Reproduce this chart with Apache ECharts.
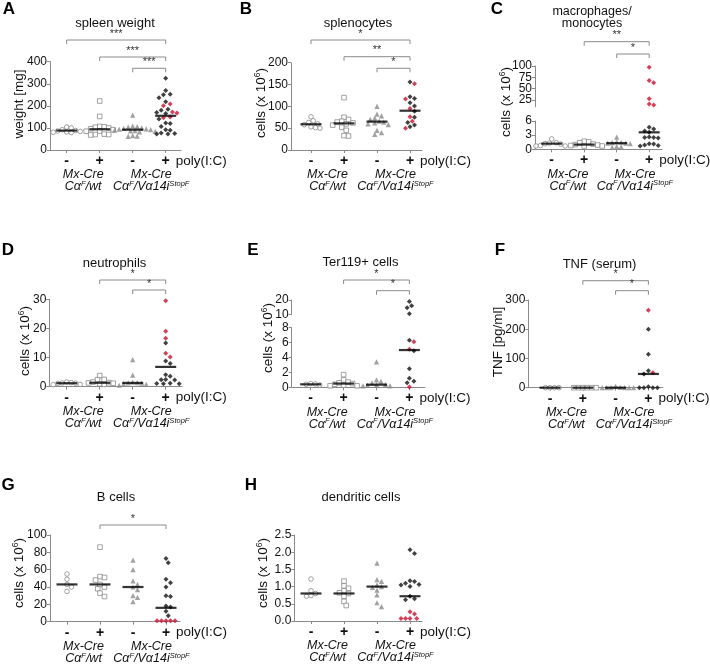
<!DOCTYPE html>
<html><head><meta charset="utf-8">
<script src="https://cdn.jsdelivr.net/npm/echarts@6/dist/echarts.min.js"></script>
<style>html,body{margin:0;padding:0;background:#fff}#c{width:710px;height:670px}</style>
</head><body><div id="c"></div>
<script>
// ---------- tick labels / categories ----------
const signs = ['-', '+', '-', '+'];

// ---------- A: spleen weight ----------
const A_g1 = [104, 100, 92, 88, 86, 84, 82, 80, 79];
const A_g2 = [222, 152, 107, 105, 103, 100, 96, 92, 86, 85, 72, 70, 70, 68];
const A_g3 = [158, 108, 106, 104, 100, 98, 96, 94, 92, 90, 88, 86, 84, 82, 65, 63, 62];
const A_g4_black = [325, 269, 252, 250, 237, 219, 185, 180, 170, 165, 140, 122, 120, 107, 92, 90, 77, 75, 73, 72];
const A_g4_red = [208, 200, 172, 168, 150, 146];
const A_med = [88, 94, 92, 155];

// ---------- B: splenocytes ----------
const B_g1 = [76, 67, 63, 60, 58, 53, 51, 50];
const B_g2 = [120, 75, 70, 66, 64, 62, 60, 57, 52, 45, 33, 32];
const B_g3 = [100, 82, 78, 73, 70, 66, 64, 62, 60, 58, 45, 40, 36];
const B_g4_black = [156, 122, 118, 108, 101, 89, 75, 63, 57, 53];
const B_g4_red = [152, 117, 95, 76, 66, 50];
const B_med = [59, 61, 65, 90];

// ---------- C: macrophages/monocytes ----------
const C_g1 = [2.2, 1.4, 1.3, 1.2, 1.1, 0.8, 0.7, 0.7];
const C_g2 = [1.7, 1.6, 1.4, 1.1, 1.0, 0.9, 0.8, 0.7, 0.7];
const C_g3 = [2.6, 1.6, 1.5, 1.4, 1.3, 1.3, 1.2, 0.6, 0.5, 0.4];
const C_g4_black = [4.7, 4.3, 3.9, 3.6, 2.6, 2.5, 2.5, 2.4, 1.2, 1.1, 0.9, 0.8, 0.7];
const C_g4_red = [97, 68, 63, 28, 16, 14];
const C_med = [1.2, 1.0, 1.3, 3.6];
const C_upperTicks = [25, 50, 75, 100];

// ---------- D: neutrophils ----------
const D_g1 = [1.6, 1.4, 1.3, 1.2, 1.1, 0.8, 0.7];
const D_g2 = [3.8, 2.5, 2.4, 1.6, 1.4, 1.3, 1.2, 1.0, 0.8];
const D_g3 = [9.3, 4.0, 1.6, 1.4, 1.3, 1.2, 1.0, 0.8, 0.5];
const D_g4_black = [15, 8.8, 8.0, 4.1, 3.6, 2.5, 2.4, 2.3, 1.2, 1.1, 1.0, 1.0];
const D_g4_red = [29.5, 19, 16.6, 11.5, 10.2];
const D_med = [1.2, 1.35, 1.3, 6.8];

// ---------- E: Ter119+ cells ----------
const E_g1 = [0.5, 0.45, 0.4, 0.3];
const E_g2 = [1.7, 1.0, 0.7, 0.6, 0.5, 0.4, 0.3, 0.2, 0.2];
const E_g3 = [3.4, 1.0, 0.8, 0.6, 0.4, 0.35, 0.3, 0.2, 0.2];
const E_g4_black = [19, 16, 14.6, 10.4, 6.3, 4.9, 2.5, 1.2, 0.8, 0.6];
const E_g4_red = [6.1, 5.1, 0.05];
const E_med = [0.4, 0.5, 0.35, 5.0];

// ---------- F: TNF (serum) ----------
const F_g1 = [0, 0, 0, 0];
const F_g2 = [0, 0, 0, 0, 0, 0];
const F_g3 = [5, 1, 0, 0, 0, 0, 0, 0];
const F_g4_black = [200, 114, 58, 47, 3, 0, 0, 0, 0];
const F_g4_red = [265, 51];
const F_med = [0, 0, 0, 47];

// ---------- G: B cells ----------
const G_g1 = [55, 49, 43, 40, 35];
const G_g2 = [86, 52, 51, 48, 43, 40, 38, 33, 29];
const G_g3 = [71, 60, 47, 43, 40, 37, 30, 28, 23];
const G_g4_black = [73, 68, 49, 45, 40, 30, 29, 18, 17, 12, 7];
const G_g4_red = [1, 1, 1, 1, 1];
const G_med = [43, 43, 40, 16];

// ---------- H: dendritic cells ----------
const H_g1 = [1.22, 0.88, 0.8, 0.74, 0.72];
const H_g2 = [1.16, 1.02, 0.95, 0.88, 0.82, 0.8, 0.72, 0.57, 0.45];
const H_g3 = [1.68, 1.2, 1.15, 1.05, 1.0, 0.98, 0.9, 0.76, 0.53, 0.42];
const H_g4_black = [2.07, 1.96, 1.17, 1.15, 1.1, 1.06, 1.05, 1.0, 0.72, 0.65, 0.62];
const H_g4_red = [0.27, 0.2, 0.07, 0.07, 0.07, 0.07];
const H_med = [0.8, 0.8, 1.0, 0.72];

// ---------- styling ----------
const FONT = 'Liberation Sans, Arial, Helvetica, sans-serif';
const AX = '#8a8a8a', GRAY = '#8a8a8a', RED = '#c8102e', BLACK = '#111';
const CELLS = '{a|cells (x 10}{s|6}{a|)}';

const panels = [
  {letter:'A', lx:9, ly:9, title:['spleen weight'], tx:115, ty:23, yname:'weight [mg]', nx:19, ny:104,
   left:50, c0:66.7, band:33, right:181,
   segs:[{min:0, max:400, interval:100, top:61.7, bottom:150}],
   groups:[A_g1, A_g2, A_g3], black:A_g4_black, red:A_g4_red, med:A_med,
   brackets:[[0,3,40,'***'],[1,3,57,'***'],[2,3,68.3,'***']]},
  {letter:'B', lx:246, ly:9, title:['splenocytes'], tx:358, ty:23, yname:CELLS, nx:261, ny:103,
   left:291, c0:311, band:33, right:422,
   segs:[{min:0, max:200, interval:50, top:62.7, bottom:150}],
   groups:[B_g1, B_g2, B_g3], black:B_g4_black, red:B_g4_red, med:B_med,
   brackets:[[0,3,40,'*'],[1,3,56.7,'**'],[2,3,68.3,'*']]},
  {letter:'C', lx:497, ly:9, title:['macrophages/','monocytes'], tx:592, ty:12, yname:CELLS, nx:506, ny:102,
   left:535, c0:551.7, band:32.5, right:662,
   segs:[{min:0, max:6, interval:3, top:121, bottom:149.3},
         {min:10, max:100, custom:C_upperTicks, top:66, bottom:106.8}],
   groups:[C_g1, C_g2, C_g3], black:C_g4_black, red:C_g4_red, med:C_med,
   brackets:[[1,3,41.7,'**'],[2,3,54,'*']]},
  {letter:'D', lx:8, ly:250, title:['neutrophils'], tx:114.5, ty:263, yname:CELLS, nx:25, ny:341,
   left:49.3, c0:66.7, band:33, right:182,
   segs:[{min:0, max:30, interval:10, top:299.3, bottom:386.7}],
   groups:[D_g1, D_g2, D_g3], black:D_g4_black, red:D_g4_red, med:D_med,
   brackets:[[1,3,280,'*'],[2,3,290,'*']]},
  {letter:'E', lx:253, ly:250, title:['Ter119+ cells'], tx:360.5, ty:262, yname:CELLS, nx:268, ny:338,
   left:291.7, c0:310.7, band:32.9, right:425,
   segs:[{min:0, max:8, interval:2, top:327.7, bottom:387.3},
         {min:10, max:20, interval:10, top:300, bottom:314.3}],
   groups:[E_g1, E_g2, E_g3], black:E_g4_black, red:E_g4_red, med:E_med,
   brackets:[[1,3,280,'*'],[2,3,290.7,'*']]},
  {letter:'F', lx:500, ly:250, title:['TNF (serum)'], tx:599.5, ty:264, yname:'TNF [pg/ml]', nx:498, ny:342,
   left:528.3, c0:550, band:32.8, right:663,
   segs:[{min:0, max:300, interval:100, top:300, bottom:387.7}],
   groups:[F_g1, F_g2, F_g3], black:F_g4_black, red:F_g4_red, med:F_med,
   brackets:[[1,3,280.7,'*'],[2,3,290.7,'*']]},
  {letter:'G', lx:8, ly:485, title:['B cells'], tx:116, ty:497, yname:CELLS, nx:19, ny:573,
   left:50, c0:67, band:33, right:180,
   segs:[{min:0, max:100, interval:20, top:535, bottom:621.7}],
   groups:[G_g1, G_g2, G_g3], black:G_g4_black, red:G_g4_red, med:G_med,
   brackets:[[1,3,525,'*']]},
  {letter:'H', lx:251, ly:485, title:['dendritic cells'], tx:361, ty:497, yname:CELLS, nx:263, ny:573,
   left:294.3, c0:311, band:33, right:422,
   segs:[{min:0, max:2.5, interval:0.5, top:535, bottom:621, dec:1}],
   groups:[H_g1, H_g2, H_g3], black:H_g4_black, red:H_g4_red, med:H_med,
   brackets:[]}
];

// deterministic beeswarm: pixel offsets so markers do not overlap
function swarm(ys, d) {
  const order = ys.map((_, i) => i).sort((a, b) => ys[b] - ys[a]);
  const cands = [0];
  for (let k = 1; k < 40; k++) cands.push(k * d * 0.5, -k * d * 0.5);
  const placed = [], res = new Array(ys.length).fill(0);
  order.forEach(i => {
    const y = ys[i];
    for (const dx of cands) {
      if (placed.every(p => (p.x - dx) * (p.x - dx) + (p.y - y) * (p.y - y) >= d * d)) {
        placed.push({x: dx, y}); res[i] = dx; break;
      }
    }
  });
  return res;
}

const STYLE = [
  {symbol:'circle', symbolSize:4.6, itemStyle:{color:'#fff', borderColor:GRAY, borderWidth:1}},
  {symbol:'rect', symbolSize:4.6, itemStyle:{color:'#fff', borderColor:GRAY, borderWidth:1}},
  {symbol:'triangle', symbolSize:5.2, itemStyle:{color:GRAY}},
  {symbol:'diamond', symbolSize:5, itemStyle:{color:BLACK}}
];
const DIAM = 4.5;
const LABEL_STYLE = {fontSize:12, fontFamily:FONT, fill:'#111', align:'right', verticalAlign:'middle'};

const grids = [], xAxes = [], yAxes = [], series = [], graphics = [];

panels.forEach(p => {
  const xMin = -(p.c0 - p.left) / p.band, xMax = (p.right - p.c0) / p.band;
  const segIdx = [];
  p.segs.forEach((s, si) => {
    const gi = grids.length; segIdx.push(gi);
    grids.push({left:p.left, top:s.top, width:p.right - p.left, height:s.bottom - s.top});
    xAxes.push({
      gridIndex:gi, type:'value', min:xMin, max:xMax, show: si === 0,
      axisLine:{show:true, onZero:false, lineStyle:{color:AX, width:1}},
      splitLine:{show:false},
      axisTick:{show:true, customValues:[0,1,2,3], length:3, lineStyle:{color:AX}},
      axisLabel:{customValues:[0,1,2,3], formatter: v => signs[Math.round(v)], hideOverlap:false,
                 fontSize:14, fontWeight:'bold', color:'#111', margin:4, fontFamily:FONT}
    });
    const y = {
      gridIndex:gi, type:'value', min:s.min, max:s.max,
      axisLine:{show:true, onZero:false, lineStyle:{color:AX, width:1}},
      splitLine:{show:false},
      axisTick:{show:true, length:3, lineStyle:{color:AX}},
      axisLabel:{fontSize:12, color:'#111', margin:3, fontFamily:FONT, hideOverlap:false,
                 formatter: v => s.dec ? v.toFixed(s.dec) : String(v)}
    };
    if (s.custom) {
      // densely spaced labels of the upper broken segment: drawn as text next to the ticks
      y.axisLabel.show = false; y.axisTick.customValues = s.custom;
      const ppu = (s.bottom - s.top) / (s.max - s.min);
      s.custom.forEach(v => graphics.push({type:'text', x:p.left - 3, y:s.bottom - (v - s.min) * ppu,
        style:Object.assign({text:String(v)}, LABEL_STYLE)}));
    } else y.interval = s.interval;
    yAxes.push(y);
  });
  const segOf = v => (p.segs.length > 1 && v > p.segs[0].max) ? 1 : 0;
  const all = [
    p.groups[0].map(v => ({v})), p.groups[1].map(v => ({v})), p.groups[2].map(v => ({v})),
    p.black.map(v => ({v, red:false})).concat(p.red.map(v => ({v, red:true})))
  ];
  all.forEach((pts, k) => {
    p.segs.forEach((s, si) => {
      const sub = pts.filter(o => segOf(o.v) === si);
      if (!sub.length) return;
      const ppu = (s.bottom - s.top) / (s.max - s.min);
      const offs = swarm(sub.map(o => (o.v - s.min) * ppu), DIAM);
      const data = sub.map((o, j) => {
        const val = [k + offs[j] / p.band, o.v];
        return k === 3 ? {value: val, itemStyle: {color: o.red ? RED : BLACK}} : val;
      });
      series.push(Object.assign({type:'scatter', xAxisIndex:segIdx[si], yAxisIndex:segIdx[si],
        data, silent:true, clip:false, z:2}, JSON.parse(JSON.stringify(STYLE[k]))));
    });
  });
  p.segs.forEach((s, si) => {
    const data = p.med.map((m, k) => [k, m]).filter(d => segOf(d[1]) === si);
    if (!data.length) return;
    series.push({type:'scatter', xAxisIndex:segIdx[si], yAxisIndex:segIdx[si], data, silent:true, clip:false,
      symbol:'rect', symbolSize:[21, 2.2], itemStyle:{color:'#000'}, z:4});
  });

  // annotations
  graphics.push({type:'text', x:p.lx, y:p.ly, style:{text:p.letter, font:'bold 17px ' + FONT, fill:'#000', align:'center', verticalAlign:'middle'}});
  p.title.forEach((t, i) => graphics.push({type:'text', x:p.tx, y:p.ty + i * 11.5, style:{text:t, fontSize:p.title.length > 1 ? 12.5 : 13, fontFamily:FONT, fill:'#111', align:'center', verticalAlign:'middle'}}));
  graphics.push({type:'text', x:p.nx, y:p.ny, rotation:Math.PI / 2,
    style:{text:p.yname, fontSize:13.5, fontFamily:FONT, fill:'#111', align:'center', verticalAlign:'middle',
      rich:{a:{fontSize:13.5, fontFamily:FONT, fill:'#111', lineHeight:16},
            s:{fontSize:8.5, fontFamily:FONT, fill:'#111', verticalAlign:'top', lineHeight:16}}}});
  const axisY = p.segs[0].bottom;
  const cx = k => p.c0 + k * p.band;
  graphics.push({type:'text', x:cx(3) + 10, y:axisY + 11, style:{text:'poly(I:C)', fontSize:13.5, fontFamily:FONT, fill:'#111', align:'left', verticalAlign:'middle'}});
  const rich = {i:{fontSize:12.5, fontStyle:'italic', fontFamily:FONT, fill:'#111', lineHeight:14},
                s:{fontSize:7.5, fontStyle:'italic', fontFamily:FONT, fill:'#111', verticalAlign:'top', lineHeight:14}};
  [[cx(0.5), '{i|Cα}{s|F}{i|/wt}'], [cx(2.5) + 2, '{i|Cα}{s|F}{i|/Vα14i}{s|StopF}']].forEach(([x, t]) => {
    graphics.push({type:'text', x, y:axisY + 25, style:{text:'Mx-Cre', fontSize:12.5, fontStyle:'italic', fontFamily:FONT, fill:'#111', align:'center', verticalAlign:'middle'}});
    graphics.push({type:'text', x, y:axisY + 37, style:{text:t, rich, fontSize:12.5, fontFamily:FONT, align:'center', verticalAlign:'middle'}});
  });
  p.brackets.forEach(([a, b, y, lab]) => {
    const x1 = cx(a), x2 = cx(b);
    graphics.push({type:'polyline', shape:{points:[[x1, y + 4], [x1, y], [x2, y], [x2, y + 4]]}, style:{stroke:AX, lineWidth:1, fill:null}});
    graphics.push({type:'text', x:(x1 + x2) / 2, y:y - 1, style:{text:lab, fontSize:11, fontFamily:FONT, fill:'#333', align:'center', verticalAlign:'bottom'}});
  });
});

const chart = echarts.init(document.getElementById('c'), null, {renderer:'canvas'});
chart.setOption({
  animation:false, backgroundColor:'#fff',
  grid:grids, xAxis:xAxes, yAxis:yAxes, series, graphic:graphics
});
</script></body></html>
